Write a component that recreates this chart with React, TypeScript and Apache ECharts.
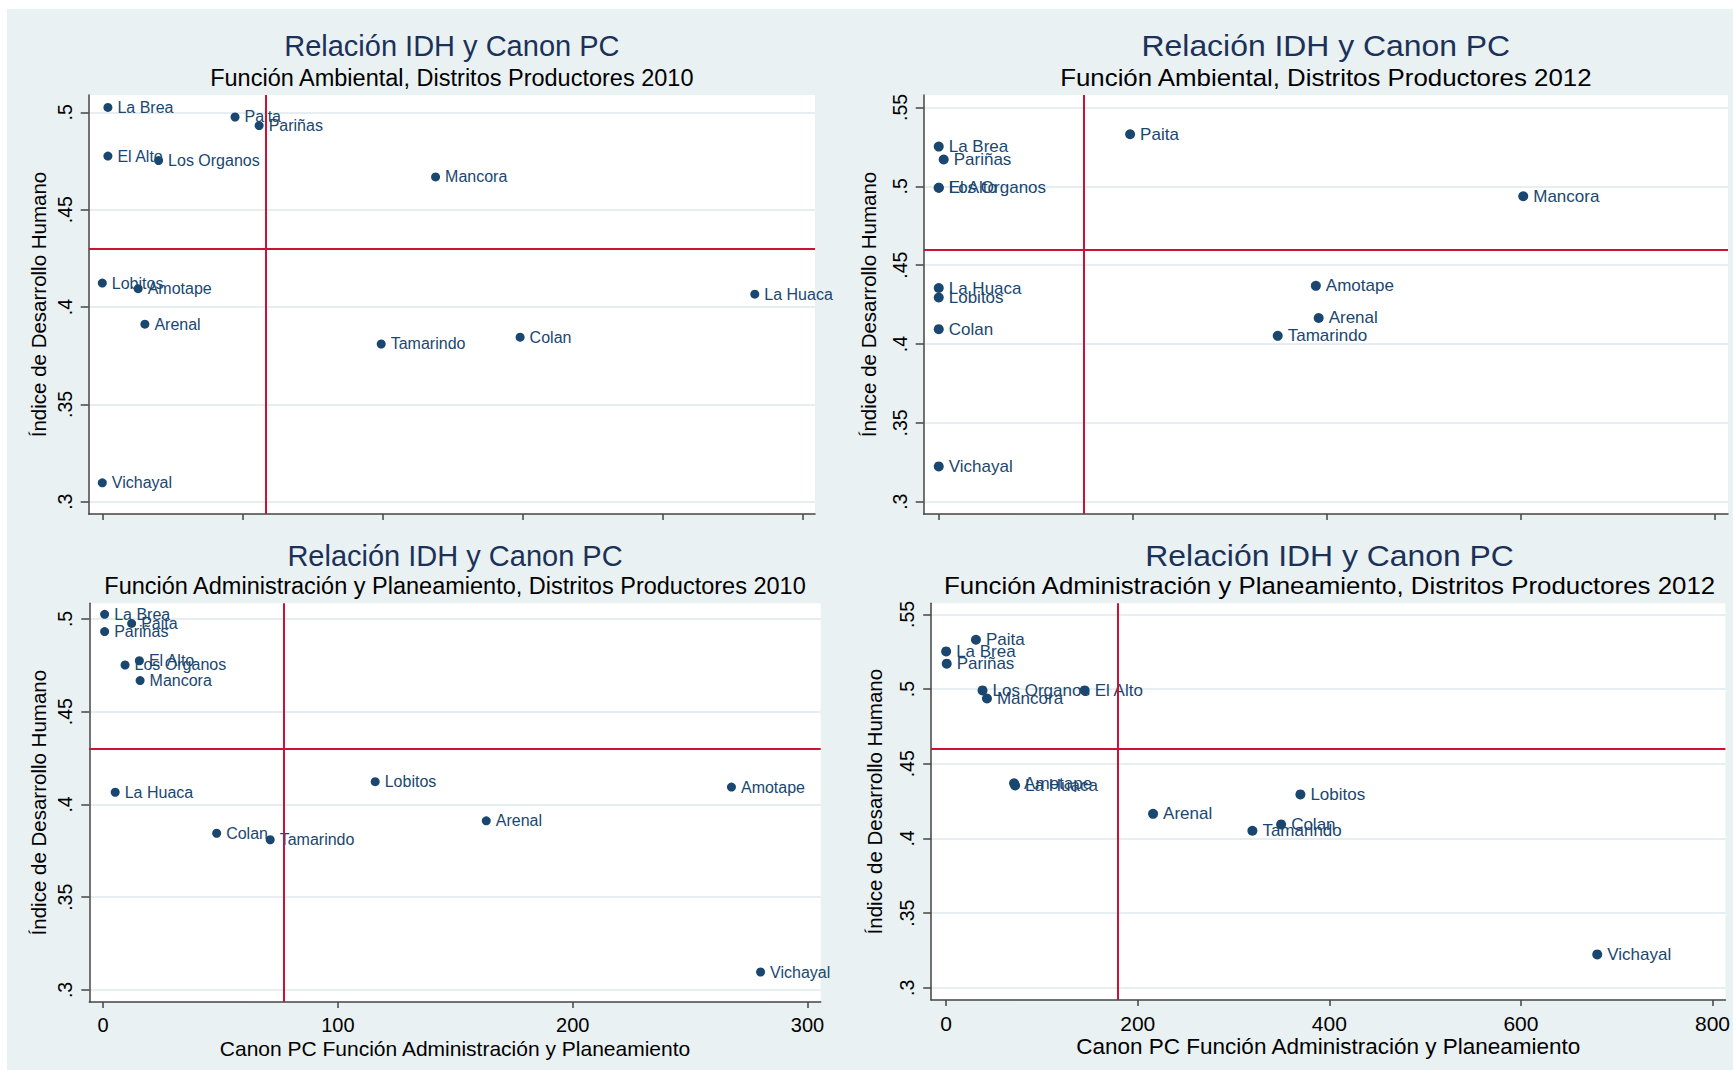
import React, { useEffect, useRef } from "react";
import * as echarts from "echarts";

// Districts (same order for all arrays)
const districts = [
  "La Brea", "Paita", "Pariñas", "El Alto", "Los Organos", "Mancora",
  "Lobitos", "Amotape", "La Huaca", "Arenal", "Tamarindo", "Colan", "Vichayal",
];

// Índice de Desarrollo Humano
const idh2010 = [0.5025, 0.4976, 0.4932, 0.4775, 0.4752, 0.4668, 0.4123, 0.4094, 0.4066, 0.3912, 0.381, 0.3845, 0.3097];
const idh2012 = [0.5252, 0.533, 0.517, 0.4991, 0.4991, 0.4937, 0.4295, 0.4369, 0.4355, 0.4165, 0.4052, 0.4094, 0.3224];

// Canon PC per function
const canonAmb2010 = [2.0, 47.4, 56.0, 2.0, 20.1, 119.0, 0, 12.8, 233.0, 15.2, 99.6, 149.2, 0];
const canonAmb2012 = [0, 197.2, 5.1, 0, 0, 602.3, 0, 388.6, 0, 391.5, 349.3, 0, 0];
const canonAdm2010 = [0.7, 12.2, 0.7, 15.5, 9.4, 15.8, 115.9, 267.6, 5.2, 163.2, 71.2, 48.4, 280.0];
const canonAdm2012 = [0, 31.1, 0.6, 144.6, 38.0, 42.6, 369.8, 70.9, 72.0, 216.0, 319.7, 349.7, 679.7];

// Reference (mean) lines
const meanIdh2010 = 0.4313;
const meanIdh2012 = 0.4556;
const meanAmb2010 = 58.2;
const meanAmb2012 = 149.3;
const meanAdm2010 = 77.1;
const meanAdm2012 = 179.1;

// Ticks
const yTicks2010 = [0.3, 0.35, 0.4, 0.45, 0.5];
const yTicks2012 = [0.3, 0.35, 0.4, 0.45, 0.5, 0.55];
const xTicksAmb2010 = [0, 50, 100, 150, 200, 250];
const xTicksAmb2012 = [0, 200, 400, 600, 800];
const xTicksAdm2010 = [0, 100, 200, 300];
const xTicksAdm2012 = [0, 200, 400, 600, 800];

const mainTitle = "Relación IDH y Canon PC";
const subtitles = [
  "Función Ambiental, Distritos Productores 2010",
  "Función Ambiental, Distritos Productores 2012",
  "Función Administración y Planeamiento, Distritos Productores 2010",
  "Función Administración y Planeamiento, Distritos Productores 2012",
];
const yTitle = "Índice de Desarrollo Humano";
const xTitle = "Canon PC Función Administración y Planeamiento";

const FONT = "'Liberation Sans', Arial, Helvetica, sans-serif";
const NAVY = "#1a476f";
const RED = "#cc1036";
const GRIDC = "#e6eef1";
const AXISC = "#444";

type Panel = {
  grid: { left: number; top: number; width: number; height: number };
  xs: number[];
  ys: number[];
  xMin: number; xMax: number; xTicks: number[]; showX: boolean;
  yMin: number; yMax: number; yTicks: number[];
  meanX: number; meanY: number;
  sub: string;
  titleY: number; subY: number;
  wide: boolean;
  yNameGap: number;
};

const panels: Panel[] = [
  {
    grid: { left: 88.7, top: 95, width: 726.3, height: 419 },
    xs: canonAmb2010, ys: idh2010,
    xMin: -4.86, xMax: 254.5, xTicks: xTicksAmb2010, showX: false,
    yMin: 0.29368, yMax: 0.50889, yTicks: yTicks2010,
    meanX: meanAmb2010, meanY: meanIdh2010, sub: subtitles[0], titleY: 46, subY: 77.6,
    wide: false, yNameGap: 40,
  },
  {
    grid: { left: 923.7, top: 95, width: 804.3, height: 419 },
    xs: canonAmb2012, ys: idh2012,
    xMin: -15.5, xMax: 813.3, xTicks: xTicksAmb2012, showX: false,
    yMin: 0.2922, yMax: 0.5579, yTicks: yTicks2012,
    meanX: meanAmb2012, meanY: meanIdh2012, sub: subtitles[1], titleY: 46, subY: 77.6,
    wide: true, yNameGap: 45,
  },
  {
    grid: { left: 89.3, top: 603.3, width: 731.4, height: 398.7 },
    xs: canonAdm2010, ys: idh2010,
    xMin: -5.83, xMax: 305.6, xTicks: xTicksAdm2010, showX: true,
    yMin: 0.29353, yMax: 0.50846, yTicks: yTicks2010,
    meanX: meanAdm2010, meanY: meanIdh2010, sub: subtitles[2], titleY: 556, subY: 586.4,
    wide: false, yNameGap: 40,
  },
  {
    grid: { left: 931.2, top: 603.3, width: 796.8, height: 396.7 },
    xs: canonAdm2012, ys: idh2012,
    xMin: -15.6, xMax: 813.5, xTicks: xTicksAdm2012, showX: true,
    yMin: 0.2919, yMax: 0.5574, yTicks: yTicks2012,
    meanX: meanAdm2012, meanY: meanIdh2012, sub: subtitles[3], titleY: 556, subY: 586.4,
    wide: true, yNameGap: 46,
  },
];

const fmtY = (v: number) => String(+v.toFixed(2)).replace(/^0/, "");

function buildOption() {
  const grid: any[] = [];
  const xAxis: any[] = [];
  const yAxis: any[] = [];
  const series: any[] = [];
  const graphic: any[] = [];

  panels.forEach((p, i) => {
    const sx = p.wide ? 1.1 : 1;
    grid.push({
      ...p.grid,
      show: true,
      backgroundColor: "#ffffff",
      borderWidth: 0,
      containLabel: false,
    });
    xAxis.push({
      gridIndex: i,
      type: "value",
      min: p.xMin,
      max: p.xMax,
      axisLine: { show: true, onZero: false, lineStyle: { color: AXISC, width: 1.5 } },
      axisTick: { show: true, length: 6, customValues: p.xTicks, lineStyle: { color: AXISC, width: 1.5 } },
      axisLabel: {
        show: p.showX,
        customValues: p.xTicks,
        margin: 13,
        fontSize: p.wide ? 21 : 20,
        color: "#000",
        fontFamily: FONT,
      },
      splitLine: { show: false },
      name: p.showX ? xTitle : "",
      nameLocation: "middle",
      nameGap: p.wide ? 35 : 36,
      nameTextStyle: { fontSize: p.wide ? 22.5 : 21, color: "#000", fontFamily: FONT },
    });
    yAxis.push({
      gridIndex: i,
      type: "value",
      min: p.yMin,
      max: p.yMax,
      axisLine: { show: true, onZero: false, lineStyle: { color: AXISC, width: 1.5 } },
      axisTick: { show: true, length: 8, customValues: p.yTicks, lineStyle: { color: AXISC, width: 1.5 } },
      axisLabel: {
        show: true,
        customValues: p.yTicks,
        rotate: 90,
        margin: 14,
        fontSize: 19.5,
        color: "#000",
        fontFamily: FONT,
        formatter: (v: number) => fmtY(v),
      },
      splitLine: { show: true, lineStyle: { color: GRIDC, width: 2 } },
      name: yTitle,
      nameLocation: "middle",
      nameRotate: 90,
      nameGap: p.yNameGap,
      nameMoveOverlap: false,
      nameTextStyle: { fontSize: 20.5, color: "#000", fontFamily: FONT },
    });
    series.push({
      type: "scatter",
      xAxisIndex: i,
      yAxisIndex: i,
      symbol: "circle",
      symbolSize: p.wide ? 10 : 9,
      itemStyle: { color: NAVY, opacity: 1 },
      label: {
        show: true,
        position: "right",
        distance: 5,
        offset: [0, 1],
        formatter: "{b}",
        color: NAVY,
        fontSize: p.wide ? 17 : 16,
        fontFamily: FONT,
      },
      labelLayout: { hideOverlap: false },
      data: districts.map((n, k) => ({ name: n, value: [p.xs[k], p.ys[k]] })),
      markLine: {
        silent: true,
        symbol: ["none", "none"],
        label: { show: false },
        lineStyle: { color: RED, width: 2, type: "solid" },
        data: [{ xAxis: p.meanX }, { yAxis: p.meanY }],
      },
      z: 3,
    });
    const cx = p.grid.left + p.grid.width / 2;
    graphic.push({
      type: "text",
      x: cx,
      y: p.titleY,
      scaleX: sx,
      style: {
        text: mainTitle,
        align: "center",
        verticalAlign: "middle",
        fontSize: 29,
        fontFamily: FONT,
        fill: "#1c3158",
      },
    });
    graphic.push({
      type: "text",
      x: cx,
      y: p.subY,
      scaleX: sx,
      style: {
        text: p.sub,
        align: "center",
        verticalAlign: "middle",
        fontSize: 23.5,
        fontFamily: FONT,
        fill: "#000",
      },
    });
  });

  return {
    animation: false,
    backgroundColor: "transparent",
    textStyle: { fontFamily: FONT },
    grid,
    xAxis,
    yAxis,
    series,
    graphic,
  };
}

export default function App() {
  const ref = useRef<HTMLDivElement>(null);
  useEffect(() => {
    if (!ref.current) return;
    const chart = echarts.init(ref.current, undefined, { renderer: "svg" });
    chart.setOption(buildOption() as any);
    return () => chart.dispose();
  }, []);
  return (
    <div style={{ position: "absolute", left: 0, top: 0, width: 1733, height: 1070, background: "#ffffff" }}>
      <div style={{ position: "absolute", left: 7, top: 9, width: 1726, height: 1061, background: "#e9f1f3" }} />
      <div ref={ref} style={{ position: "absolute", left: 0, top: 0, width: 1733, height: 1070 }} />
    </div>
  );
}
